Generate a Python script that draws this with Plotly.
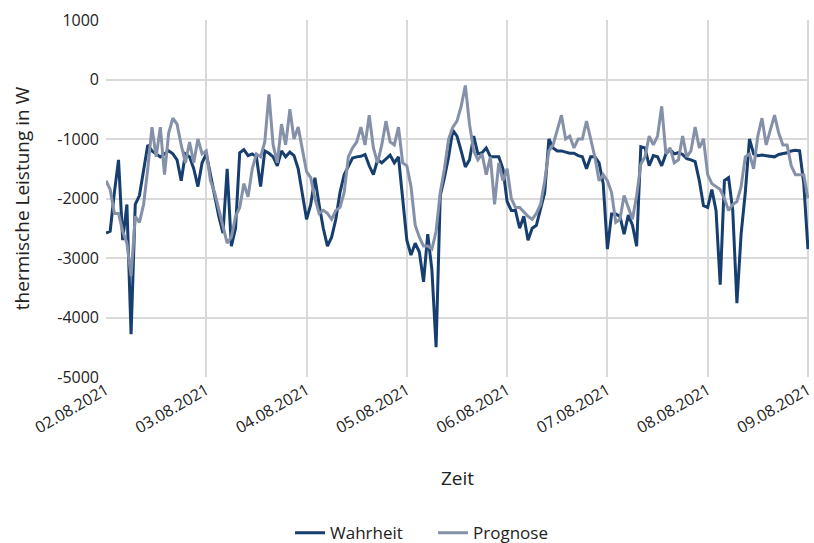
import pandas as pd
import plotly.graph_objects as go

# hourly values, 02.08.2021 00:00 .. 09.08.2021 00:00
wahrheit = [
    -2580, -2550, -1900, -1350, -2700, -2100, -4280, -2100, -1950, -1500, -1100, -1200,
    -1250, -1300, -1250, -1200, -1250, -1350, -1700, -1250, -1300, -1500, -1800, -1400,
    -1250, -1600, -1970, -2300, -2580, -1500, -2800, -2500, -1230, -1180, -1280, -1250,
    -1300, -1800, -1200, -1240, -1300, -1450, -1200, -1300, -1220, -1280, -1500, -1950,
    -2350, -2100, -1650, -2100, -2500, -2800, -2650, -2350, -1900, -1600, -1450, -1320,
    -1300, -1290, -1260, -1450, -1600, -1350, -1400, -1330, -1270, -1400, -1300, -2000,
    -2700, -2950, -2750, -2900, -3400, -2600, -3200, -4500, -1950, -1650, -1300, -850,
    -950, -1200, -1470, -1350, -950, -1250, -1230, -1150, -1300, -1300, -1300, -1500,
    -2050, -2200, -2200, -2500, -2300, -2700, -2500, -2450, -2150, -1900, -1000, -1150,
    -1200, -1200, -1220, -1240, -1240, -1280, -1300, -1500, -1300, -1300, -1400, -1750,
    -2850, -2260, -2260, -2300, -2600, -2280, -2450, -2800, -1130, -1150, -1450, -1280,
    -1300, -1450, -1250, -1180, -1250, -1230, -1260, -1330, -1350, -1380, -1700, -2120,
    -2150, -1850, -2200, -3450, -1700, -1650, -2200, -3760, -2600, -1900, -1000, -1250,
    -1280, -1270, -1280, -1290, -1300, -1260, -1250, -1230, -1200, -1190, -1200, -1750,
    -2850,
]
prognose = [
    -1700, -1850, -2250, -2250, -2550, -2750, -3300, -2300, -2400, -2100, -1500, -800,
    -1300, -800, -1600, -900, -650, -750, -1100, -1400, -1050, -1400, -1000, -1250,
    -1200, -1700, -1900, -2200, -2450, -2750, -2650, -2300, -2150, -1750, -1970, -1500,
    -1250, -1300, -1050, -250, -1100, -1400, -750, -1100, -500, -1000, -800, -1200,
    -1550, -1650, -2000, -2250, -2200, -2250, -2350, -2200, -2150, -1900, -1300, -1150,
    -1050, -800, -1100, -600, -1150, -1400, -1100, -700, -1050, -1100, -800, -1400,
    -1450, -1800, -2450, -2650, -2800, -2800, -2850, -2550, -1900, -1500, -1000, -800,
    -700, -450, -100, -750, -1200, -1350, -1250, -1600, -1300, -2100, -1400, -1700,
    -1500, -2000, -2150, -2150, -2230, -2300, -2350, -2250, -2100, -1700, -1200, -1100,
    -850, -600, -1000, -950, -1150, -1000, -1000, -700, -1000, -1300, -1700, -1600,
    -1700, -1900, -2400, -2350, -1950, -2150, -2350, -1950, -1420, -1300, -950, -1100,
    -950, -450, -1250, -1150, -1400, -1350, -950, -1300, -1200, -800, -1150, -1000,
    -1600, -1750, -1800, -1850, -2000, -2200, -2100, -2050, -1800, -1300, -1250, -1500,
    -950, -650, -1100, -850, -600, -900, -1100, -1100, -1450, -1600, -1600, -1600,
    -2000,
]
zeit = pd.date_range("2021-08-02 00:00", periods=len(wahrheit), freq="h")

x_ticks = pd.date_range("2021-08-02", "2021-08-09", freq="D")
x_labels = [d.strftime("%d.%m.%Y") for d in x_ticks]
y_ticks = [1000, 0, -1000, -2000, -3000, -4000, -5000]
y_labels = [str(v) for v in y_ticks]

FONT = "Open Sans, sans-serif"
GRID = "#d9d9d9"

fig = go.Figure()
fig.add_trace(go.Scatter(x=zeit, y=wahrheit, mode="lines", name="Wahrheit",
                         line=dict(color="#163e6e", width=3)))
fig.add_trace(go.Scatter(x=zeit, y=prognose, mode="lines", name="Prognose",
                         line=dict(color="#8591a9", width=3)))

fig.update_layout(
    width=814, height=543,
    margin=dict(l=106, r=5, t=20, b=166),
    paper_bgcolor="white", plot_bgcolor="white",
    font=dict(family=FONT, size=16, color="#222222"),
    showlegend=True,
    legend=dict(orientation="h", xref="container", yref="container",
                x=0.532, xanchor="center", y=0.018, yanchor="middle",
                entrywidth=98, font=dict(size=17)),
    xaxis=dict(
        type="date",
        range=[x_ticks[0], x_ticks[-1] + pd.Timedelta(minutes=15)],
        tickmode="array", tickvals=x_ticks, ticktext=x_labels,
        tickangle=-30, automargin=False, ticklabeloverflow="allow",
        showgrid=True, gridcolor=GRID, gridwidth=2,
        zeroline=False, showline=False, ticks="",
        title=dict(text="Zeit", standoff=34),
    ),
    yaxis=dict(
        range=[-5000, 1000], automargin=False,
        tickmode="array", tickvals=y_ticks, ticktext=y_labels,
        showgrid=True, gridcolor=GRID, gridwidth=2,
        zeroline=False, showline=False, ticks="",
        ticklabelstandoff=6,
        title=dict(text="thermische Leistung in W", standoff=22),
    ),
)

fig.write_html("out.html", config={"displayModeBar": False},
               post_script="document.body.style.margin='0';document.body.style.overflow='hidden';")
